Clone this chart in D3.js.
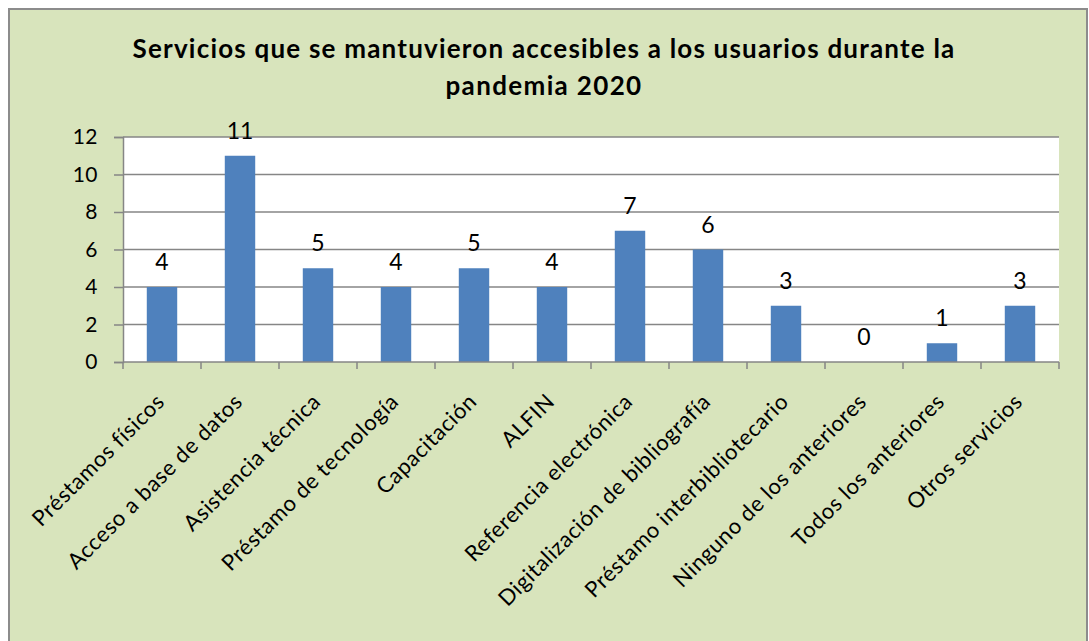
<!DOCTYPE html>
<html>
<head>
<meta charset="utf-8">
<script src="https://cdn.jsdelivr.net/npm/d3@7"></script>
<style>
  html, body { margin: 0; padding: 0; background: #ffffff; }
  svg { display: block; }
  text { font-family: Lato, "Open Sans", sans-serif; fill: #000; }
</style>
</head>
<body>
<svg id="chart" width="1089" height="641"></svg>
<script>
// Categories and counts of services kept available during the pandemic
const categories = [
  "Préstamos físicos",
  "Acceso a base de datos",
  "Asistencia técnica",
  "Préstamo de tecnología",
  "Capacitación",
  "ALFIN",
  "Referencia electrónica",
  "Digitalización de bibliografía",
  "Préstamo interbibliotecario",
  "Ninguno de los anteriores",
  "Todos los anteriores",
  "Otros servicios"
];
const values = [4, 11, 5, 4, 5, 4, 7, 6, 3, 0, 1, 3];
const yTicks = [0, 2, 4, 6, 8, 10, 12];
const titleLines = [
  "Servicios que se mantuvieron accesibles a los usuarios durante la",
  "pandemia 2020"
];

const svg = d3.select("#chart");

// chart area background with frame
svg.append("rect")
  .attr("x", 9).attr("y", 9)
  .attr("width", 1078).attr("height", 640)
  .attr("fill", "#d8e4bc")
  .attr("stroke", "#8c8c8c")
  .attr("stroke-width", 2);

const plot = { left: 123, right: 1059, top: 137, bottom: 362 };

const x = d3.scaleBand()
  .domain(categories)
  .range([plot.left, plot.right])
  .paddingInner(0.61)
  .paddingOuter(0.305);

const band = (plot.right - plot.left) / categories.length;

const y = d3.scaleLinear()
  .domain([0, 12])
  .range([plot.bottom, plot.top]);

// plot area
svg.append("rect")
  .attr("x", plot.left).attr("y", plot.top)
  .attr("width", plot.right - plot.left)
  .attr("height", plot.bottom - plot.top)
  .attr("fill", "#ffffff");

// horizontal gridlines
svg.append("g")
  .selectAll("line")
  .data(yTicks.filter(d => d > 0))
  .join("line")
  .attr("x1", plot.left).attr("x2", plot.right)
  .attr("y1", d => y(d)).attr("y2", d => y(d))
  .attr("stroke", "#868686")
  .attr("stroke-width", 1.5);

// y axis
const yAxis = svg.append("g")
  .attr("transform", `translate(${plot.left},0)`)
  .call(d3.axisLeft(y).tickValues(yTicks).tickSize(9).tickPadding(16));
yAxis.select(".domain").attr("stroke", "#868686").attr("stroke-width", 1.5);
yAxis.selectAll(".tick line").attr("stroke", "#868686").attr("stroke-width", 1.5);
yAxis.selectAll(".tick text")
  .attr("font-size", 21)
  .style("font-family", "Lato, sans-serif")
  .attr("letter-spacing", 0.5)
  .attr("fill", "#000");

// bars
svg.append("g")
  .selectAll("rect")
  .data(values)
  .join("rect")
  .attr("x", (d, i) => x(categories[i]))
  .attr("y", d => y(d))
  .attr("width", x.bandwidth())
  .attr("height", d => y(0) - y(d))
  .attr("fill", "#4f81bd");

// x axis line and ticks at band boundaries
const boundaries = d3.range(categories.length + 1).map(i => plot.left + i * band);
svg.append("line")
  .attr("x1", plot.left).attr("x2", plot.right)
  .attr("y1", plot.bottom).attr("y2", plot.bottom)
  .attr("stroke", "#868686").attr("stroke-width", 1.5);
svg.append("g")
  .selectAll("line")
  .data(boundaries)
  .join("line")
  .attr("x1", d => d).attr("x2", d => d)
  .attr("y1", plot.bottom).attr("y2", plot.bottom + 7)
  .attr("stroke", "#868686").attr("stroke-width", 1.5);

// value labels
svg.append("g")
  .selectAll("text")
  .data(values)
  .join("text")
  .attr("x", (d, i) => x(categories[i]) + x.bandwidth() / 2)
  .attr("y", d => y(d) - 17)
  .attr("text-anchor", "middle")
  .attr("font-size", 23)
  .text(d => d);

// rotated category labels
svg.append("g")
  .selectAll("text")
  .data(categories)
  .join("text")
  .attr("transform", d => `translate(${x(d) + x.bandwidth() / 2 + 4},403) rotate(-45)`)
  .attr("text-anchor", "end")
  .attr("font-size", 22)
  .attr("letter-spacing", 0.6)
  .text(d => d);

// title, spaced out to span its full line width
const title = svg.append("g")
  .selectAll("text")
  .data(titleLines)
  .join("text")
  .attr("x", 544)
  .attr("y", (d, i) => 58 + i * 37)
  .attr("text-anchor", "middle")
  .attr("font-size", 26)
  .attr("font-weight", "bold")
  .text(d => d);
const titleWidths = [823, 197];
title.each(function (d, i) {
  const natural = this.getComputedTextLength();
  const n = d.length;
  this.setAttribute("letter-spacing", Math.max(0, (titleWidths[i] - natural) / n));
});
</script>
</body>
</html>
